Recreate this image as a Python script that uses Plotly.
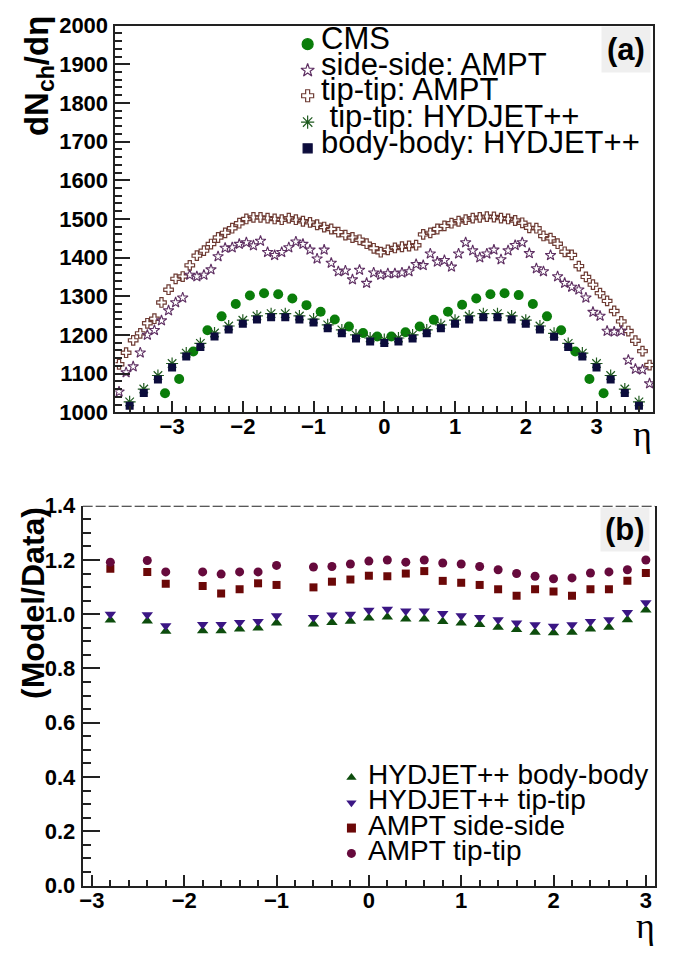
import plotly.graph_objects as go

# ---------------- data: panel (a) ----------------
eta_cms = [-3.1, -2.9, -2.7, -2.5, -2.3, -2.1, -1.9, -1.7, -1.5, -1.3, -1.1, -0.9, -0.7, -0.5, -0.3, -0.1,
           0.1, 0.3, 0.5, 0.7, 0.9, 1.1, 1.3, 1.5, 1.7, 1.9, 2.1, 2.3, 2.5, 2.7, 2.9, 3.1]
cms = [1049, 1086, 1157, 1212, 1248, 1280, 1302, 1308, 1305, 1294, 1277, 1260, 1240, 1222, 1205, 1196,
       1196, 1207, 1222, 1239, 1260, 1278, 1294, 1305, 1308, 1303, 1280, 1248, 1212, 1157, 1086, 1049]

eta_ampt = [-3.75, -3.65, -3.55, -3.45, -3.35, -3.25, -3.15, -3.05, -2.95, -2.85, -2.75, -2.65, -2.55,
            -2.45, -2.35, -2.25, -2.15, -2.05, -1.95, -1.85, -1.75, -1.65, -1.55, -1.45, -1.35, -1.25,
            -1.15, -1.05, -0.95, -0.85, -0.75, -0.65, -0.55, -0.45, -0.35, -0.25, -0.15, -0.05,
            0.05, 0.15, 0.25, 0.35, 0.45, 0.55, 0.65, 0.75, 0.85, 0.95, 1.05, 1.15, 1.25, 1.35, 1.45,
            1.55, 1.65, 1.75, 1.85, 1.95, 2.05, 2.15, 2.25, 2.35, 2.45, 2.55, 2.65, 2.75, 2.85, 2.95,
            3.05, 3.15, 3.25, 3.35, 3.45, 3.55, 3.65, 3.75]
ampt_side = [1053, 1103, 1118, 1154, 1200, 1212, 1237, 1263, 1284, 1296, 1355, 1351, 1355,
             1369, 1403, 1425, 1426, 1435, 1439, 1431, 1443, 1414, 1406, 1414, 1426, 1441,
             1435, 1420, 1397, 1420, 1386, 1364, 1366, 1343, 1368, 1334, 1361, 1355,
             1359, 1359, 1361, 1364, 1383, 1380, 1410, 1389, 1393, 1376, 1410, 1439, 1418, 1400, 1410,
             1420, 1395, 1418, 1432, 1439, 1411, 1372, 1364, 1406, 1351, 1334, 1324, 1317, 1296, 1259,
             1249, 1210, 1208, 1210, 1135, 1112, 1110, 1074]
ampt_tip = [1124, 1154, 1186, 1204, 1230, 1242, 1284, 1317, 1345, 1351, 1380, 1405, 1418,
            1435, 1452, 1464, 1476, 1489, 1500, 1504, 1504, 1502, 1500, 1498, 1502, 1498,
            1494, 1491, 1485, 1479, 1474, 1466, 1458, 1452, 1446, 1436, 1424, 1414,
            1420, 1425, 1428, 1430, 1432, 1460, 1464, 1474, 1482, 1489, 1494, 1498, 1502, 1504, 1506,
            1505, 1502, 1500, 1496, 1490, 1477, 1476, 1456, 1450, 1436, 1415, 1407, 1378, 1350, 1330,
            1308, 1288, 1262, 1235, 1210, 1185, 1158, 1122]

eta_hyd = [-3.6, -3.4, -3.2, -3.0, -2.8, -2.6, -2.4, -2.2, -2.0, -1.8, -1.6, -1.4, -1.2, -1.0, -0.8,
           -0.6, -0.4, -0.2, 0.0, 0.2, 0.4, 0.6, 0.8, 1.0, 1.2, 1.4, 1.6, 1.8, 2.0, 2.2, 2.4, 2.6,
           2.8, 3.0, 3.2, 3.4, 3.6]
hyd_body = [1017, 1050, 1085, 1116, 1144, 1169, 1196, 1214, 1229, 1240, 1246, 1246, 1240, 1232, 1217,
            1204, 1191, 1183, 1179, 1183, 1191, 1204, 1217, 1229, 1240, 1246, 1246, 1240, 1229, 1214,
            1195, 1169, 1144, 1116, 1085, 1050, 1017]
hyd_tip = [1027, 1060, 1095, 1126, 1153, 1178, 1205, 1223, 1238, 1249, 1255, 1255, 1249, 1241, 1226,
           1213, 1200, 1192, 1188, 1192, 1200, 1213, 1226, 1238, 1249, 1255, 1255, 1249, 1238, 1223,
           1204, 1178, 1153, 1126, 1095, 1060, 1027]

# ---------------- data: panel (b) ----------------
eta_r = [-2.8, -2.4, -2.2, -1.8, -1.6, -1.4, -1.2, -1.0, -0.6, -0.4, -0.2, 0.0, 0.2, 0.4, 0.6, 0.8,
         1.0, 1.2, 1.4, 1.6, 1.8, 2.0, 2.2, 2.4, 2.6, 2.8, 3.0]
r_hyd_body = [0.979, 0.975, 0.937, 0.939, 0.939, 0.946, 0.949, 0.968, 0.964, 0.970, 0.974, 0.986, 0.990,
              0.982, 0.982, 0.973, 0.968, 0.962, 0.952, 0.944, 0.934, 0.932, 0.934, 0.946, 0.952, 0.980, 1.016]
r_hyd_tip = [1.000, 0.998, 0.958, 0.962, 0.962, 0.970, 0.973, 0.994, 0.988, 0.997, 1.000, 1.015, 1.018,
             1.012, 1.012, 1.003, 0.994, 0.988, 0.980, 0.968, 0.961, 0.956, 0.961, 0.973, 0.980, 1.006, 1.042]
r_ampt_side = [1.168, 1.156, 1.112, 1.104, 1.076, 1.092, 1.114, 1.108, 1.099, 1.120, 1.128, 1.142, 1.140,
               1.150, 1.159, 1.123, 1.116, 1.108, 1.092, 1.068, 1.092, 1.084, 1.068, 1.092, 1.092, 1.123, 1.152]
r_ampt_tip = [1.192, 1.198, 1.156, 1.156, 1.148, 1.156, 1.156, 1.180, 1.174, 1.176, 1.185, 1.196, 1.200,
              1.192, 1.200, 1.189, 1.185, 1.176, 1.164, 1.150, 1.140, 1.131, 1.134, 1.152, 1.156, 1.164, 1.200]

legend_a = ["CMS", "side-side: AMPT", "tip-tip: AMPT", " tip-tip: HYDJET++", "body-body: HYDJET++"]
legend_b = ["HYDJET++ body-body", "HYDJET++ tip-tip", "AMPT side-side", "AMPT tip-tip"]

# colours
C_CMS = "#0a7d0a"
C_SIDE = "#5e2f62"
C_TIPA = "#6e3b33"
C_HTIP = "#1f5a1f"
C_BODY = "#0c0c3c"
C_RB = "#0d4d0d"
C_RT = "#3b1684"
C_RS = "#6b0808"
C_RC = "#660a3c"

W, H = 675, 955
fig = go.Figure()

# panel (a)
fig.add_trace(go.Scatter(x=eta_ampt, y=ampt_tip, mode="markers", xaxis="x", yaxis="y",
                         marker=dict(symbol="cross-open", size=8, color=C_TIPA, line=dict(width=1.2, color=C_TIPA))))
fig.add_trace(go.Scatter(x=eta_ampt, y=ampt_side, mode="markers", xaxis="x", yaxis="y",
                         marker=dict(symbol="star-open", size=8, color=C_SIDE, line=dict(width=1.1, color=C_SIDE))))
fig.add_trace(go.Scatter(x=eta_cms, y=cms, mode="markers", xaxis="x", yaxis="y",
                         marker=dict(symbol="circle", size=10, color=C_CMS)))
fig.add_trace(go.Scatter(x=eta_hyd, y=hyd_tip, mode="markers", xaxis="x", yaxis="y",
                         marker=dict(symbol="asterisk-open", size=10, color=C_HTIP, line=dict(width=1.2, color=C_HTIP))))
fig.add_trace(go.Scatter(x=eta_hyd, y=hyd_body, mode="markers", xaxis="x", yaxis="y",
                         marker=dict(symbol="square", size=8, color=C_BODY)))

# panel (b)
fig.add_trace(go.Scatter(x=eta_r, y=r_hyd_body, mode="markers", xaxis="x2", yaxis="y2",
                         marker=dict(symbol="triangle-up", size=10, color=C_RB)))
fig.add_trace(go.Scatter(x=eta_r, y=r_hyd_tip, mode="markers", xaxis="x2", yaxis="y2",
                         marker=dict(symbol="triangle-down", size=10, color=C_RT)))
fig.add_trace(go.Scatter(x=eta_r, y=r_ampt_side, mode="markers", xaxis="x2", yaxis="y2",
                         marker=dict(symbol="square", size=8, color=C_RS)))
fig.add_trace(go.Scatter(x=eta_r, y=r_ampt_tip, mode="markers", xaxis="x2", yaxis="y2",
                         marker=dict(symbol="circle", size=9, color=C_RC)))

# legend symbols on a pixel overlay axis
leg_a_x = [306] * 5
leg_a_y = [33, 60, 86, 113, 140]
leg_a_sym = ["circle", "star-open", "cross-open", "asterisk-open", "square"]
leg_a_col = [C_CMS, C_SIDE, C_TIPA, C_HTIP, C_BODY]
leg_a_size = [11, 10, 10, 11, 9]
for xx, yy, s, c, sz in zip(leg_a_x, leg_a_y, leg_a_sym, leg_a_col, leg_a_size):
    fig.add_trace(go.Scatter(x=[xx], y=[yy], mode="markers", xaxis="x3", yaxis="y3",
                             marker=dict(symbol=s, size=sz, color=c, line=dict(width=1.2, color=c))))
leg_b_x = [350] * 4
leg_b_y = [786, 812, 838, 864]
leg_b_sym = ["triangle-up", "triangle-down", "square", "circle"]
leg_b_col = [C_RB, C_RT, C_RS, C_RC]
for xx, yy, s, c in zip(leg_b_x, leg_b_y, leg_b_sym, leg_b_col):
    fig.add_trace(go.Scatter(x=[xx], y=[yy], mode="markers", xaxis="x3", yaxis="y3",
                             marker=dict(symbol=s, size=9, color=c)))

def px_x(p):
    return p / W

def px_y(p):
    return 1 - p / H

tickfont = dict(family="Liberation Sans", size=22, color="black", weight="bold")
axcommon = dict(showgrid=False, zeroline=False, showline=True, linecolor="#222", linewidth=2,
                ticks="inside", tickcolor="#222", tickwidth=1.5, tickfont=tickfont)

fig.update_layout(
    width=W, height=H, margin=dict(l=0, r=0, t=0, b=0),
    paper_bgcolor="white", plot_bgcolor="rgba(0,0,0,0)", showlegend=False,
    xaxis=dict(domain=[px_x(113), px_x(653)], range=[-3.8, 3.8], anchor="y", mirror=True,
               dtick=1, ticklen=11, minor=dict(dtick=0.2, ticklen=6, ticks="inside", tickcolor="#222"),
               ticklabelstandoff=-7, **axcommon),
    yaxis=dict(domain=[px_y(411), px_y(14)], range=[1000, 2000], anchor="x", mirror=True,
               dtick=100, ticklen=15, minor=dict(dtick=20, ticklen=7, ticks="inside", tickcolor="#222"),
               ticklabelstandoff=1, **axcommon),
    xaxis2=dict(domain=[px_x(80), px_x(655)], range=[-3.1, 3.1], anchor="y2",
                dtick=1, ticklen=11, minor=dict(dtick=0.2, ticklen=6, ticks="inside", tickcolor="#222"),
                ticklabelstandoff=-6, **axcommon),
    yaxis2=dict(domain=[px_y(897), px_y(507)], range=[0, 1.4], anchor="x2", mirror=True,
                dtick=0.2, tickformat=".1f", ticklen=17,
                minor=dict(dtick=0.05, ticklen=8, ticks="inside", tickcolor="#222"),
                ticklabelstandoff=1, **axcommon),
    xaxis3=dict(domain=[0, 1], range=[0, W], visible=False, anchor="y3", fixedrange=True),
    yaxis3=dict(domain=[0, 1], range=[H, 0], visible=False, anchor="x3", fixedrange=True),
)

# dashed top border of panel (b)
fig.add_shape(type="line", xref="x2", yref="y2", x0=-3.1, x1=3.1, y0=1.4, y1=1.4,
              line=dict(color="#222", width=2, dash="10px,3px"))

ann = []
# axis titles
ann.append(dict(x=px_x(36), y=px_y(66), xref="paper", yref="paper", textangle=-90, showarrow=False,
                text="<b>dN<sub>ch</sub>/dη</b>", font=dict(family="Liberation Sans", size=33, color="black"),
                xanchor="center", yanchor="middle"))
ann.append(dict(x=px_x(30), y=px_y(607), xref="paper", yref="paper", textangle=-90, showarrow=False,
                text="<b>(Model/Data)</b>", font=dict(family="Liberation Sans", size=32, color="black"),
                xanchor="center", yanchor="middle"))
ann.append(dict(x=px_x(642), y=px_y(433), xref="paper", yref="paper", showarrow=False, text="η",
                font=dict(family="Liberation Serif", size=36, color="black"), xanchor="center", yanchor="middle"))
ann.append(dict(x=px_x(645), y=px_y(939), xref="paper", yref="paper", showarrow=False, text="η",
                font=dict(family="Liberation Serif", size=36, color="black"), xanchor="center", yanchor="middle"))
# panel labels
ann.append(dict(x=px_x(651), y=px_y(38), xref="paper", yref="paper", showarrow=False, text="<b>(a)</b>",
                font=dict(family="Liberation Sans", size=31, color="black"), xanchor="right", yanchor="middle",
                bgcolor="#efefef", borderpad=5))
ann.append(dict(x=px_x(650), y=px_y(531), xref="paper", yref="paper", showarrow=False, text="<b>(b)</b>",
                font=dict(family="Liberation Sans", size=31, color="black"), xanchor="right", yanchor="middle",
                bgcolor="#efefef", borderpad=4))
# legend texts
for txt, yy in zip(legend_a, leg_a_y):
    ann.append(dict(x=px_x(317), y=px_y(yy - 6), xref="paper", yref="paper", showarrow=False, text=txt,
                    font=dict(family="Liberation Sans", size=31, color="black"), xanchor="left", yanchor="middle"))
for txt, yy in zip(legend_b, leg_b_y):
    ann.append(dict(x=px_x(365), y=px_y(yy - 3), xref="paper", yref="paper", showarrow=False, text=txt,
                    font=dict(family="Liberation Sans", size=28, color="black"), xanchor="left", yanchor="middle"))
fig.update_layout(annotations=ann)

fig.write_html("out.html", post_script="document.body.style.margin='0px';document.body.style.padding='0px';")
